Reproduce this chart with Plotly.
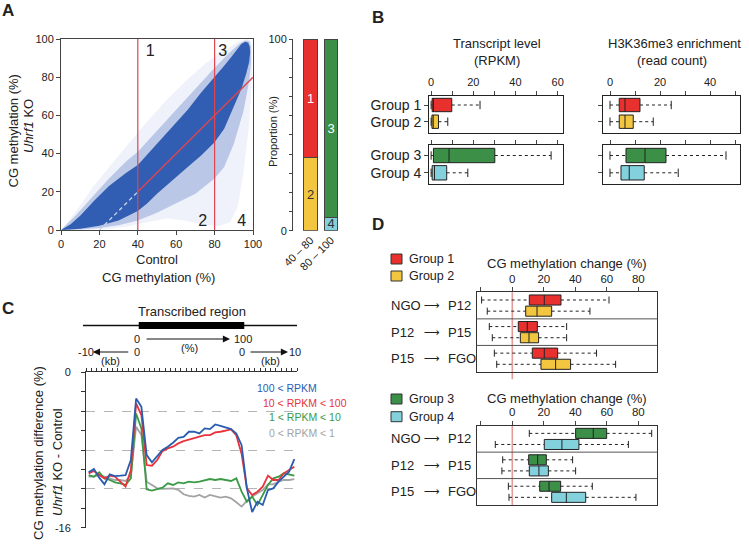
import plotly.graph_objects as go

W, H = 749, 546
FONT = "Liberation Sans, Arial, Helvetica, sans-serif"
INK = "#222222"
RED, YEL, GRN, CYN = "#e8312f", "#f3c63f", "#3b8f47", "#82d1dd"


def fx(p):
    return p / W


def fy(p):
    return 1 - p / H


# ---------------- data ----------------
# Panel A: envelopes of the CpG density cloud (Control %, Uhrf1 KO %)
halo_x = [0, 8, 17, 25, 35, 45, 55, 65, 75, 85, 93, 97, 99, 99.5, 99.5, 98, 95, 92, 88, 82, 74, 64, 55, 45, 35, 25, 15, 0]
halo_y = [0, 10, 23, 33, 45, 57, 68, 78, 87, 94, 99, 100, 99, 95, 80, 55, 30, 12, 4, 2, 3, 5, 6, 4, 2, 0.5, 0, 0]
mid_x = [0, 8, 17, 25, 34, 40, 50, 60, 70, 80, 88, 93, 96, 98, 99, 99, 98, 95, 90, 85, 80, 70, 60, 50, 40, 30, 20, 10, 0]
mid_y = [0, 8, 18, 27, 36, 41, 52, 63, 74, 85, 93, 97.5, 99.2, 99, 96, 88, 78, 62, 45, 33, 27, 19, 14, 9, 5, 2.5, 1, 0.2, 0]
core_x = [0, 5, 10, 17, 25, 34, 40, 50, 58, 66, 73, 80, 85, 89, 92, 94, 96, 97.5,
          98.3, 98.5, 98, 96.5, 94, 89, 85, 80, 73, 66, 58, 50, 45, 40, 30, 20, 10, 0]
core_y = [0, 3, 7.5, 15, 23, 30, 34, 45, 54, 63, 72, 80, 86, 91, 95, 97.5, 98.5, 98,
          96, 93, 88, 82, 74, 62, 53, 46, 39, 33, 26, 19, 14, 10, 5, 2.2, 0.6, 0]
thresholds = [40, 80]
diag_offset = 20
region_names = ["1", "3", "2", "4"]
region_x = [46.4, 84.2, 73.8, 94.1]
region_y = [93.2, 93.2, 4.3, 4.3]

# Panel A: proportions
bar_cats = ["40 – 80", "80 – 100"]
prop_lower = [38, 7]     # groups 2 / 4
prop_upper = [62, 93]    # groups 1 / 3
lower_names = ["2", "4"]
upper_names = ["1", "3"]

# Panel B
b_top = ["Group 1", "Group 2"]
b_bot = ["Group 3", "Group 4"]
rpkm_lo = [0, 0, 0, 0]
rpkm_q1 = [0.5, 0.4, 1.1, 0.5]
rpkm_med = [1.1, 1.0, 8.5, 1.6]
rpkm_q3 = [9.8, 3.5, 30.2, 7.4]
rpkm_hi = [23.2, 7.9, 56.9, 17.4]
h3_lo = [0, 0, 0, 0]
h3_q1 = [3.7, 3.7, 6.4, 4.4]
h3_med = [6.0, 6.0, 14.0, 7.7]
h3_q3 = [12.0, 9.3, 22.4, 13.7]
h3_hi = [24.5, 17.3, 46.4, 27.3]

# Panel C: metagene profiles (40 bins: 10 upstream, 20 body, 10 downstream)
n_up, n_body, n_down = 10, 20, 10
bin_centers = [i + 0.5 for i in range(n_up + n_body + n_down)]
c_names = ["0 < RPKM < 1", "1 < RPKM < 10", "10 < RPKM < 100", "100 < RPKM"]
c_gray = [-10.75, -10.75, -10.58, -10.75, -10.92, -11.09, -11.09, -11.19, -10.58, -5.6,
          -6.47, -11.26, -11.6, -11.95, -12.0, -11.95, -11.95, -12.1, -12.56, -12.73,
          -12.8, -12.63, -12.9, -12.63, -12.8, -12.9, -12.8, -12.97, -13.38, -13.83,
          -13.25, -12.8, -12.46, -12.12, -11.54, -11.54, -11.26, -11.09, -11.09, -10.99]
c_green = [-10.58, -10.75, -10.3, -10.92, -11.09, -11.33, -11.43, -11.6, -10.92, -4.24,
           -5.78, -12.05, -12.18, -12.05, -11.88, -11.43, -11.6, -11.33, -11.43, -11.26,
           -11.33, -11.26, -11.09, -10.99, -11.09, -10.99, -11.09, -11.19, -10.92, -12.29,
           -13.32, -12.8, -13.66, -12.7, -11.6, -10.92, -10.75, -10.4, -10.5, -10.64]
c_red = [-10.4, -10.16, -10.58, -10.92, -10.64, -10.75, -11.26, -11.77, -10.06, -3.2,
         -4.41, -9.55, -9.62, -9.03, -8.11, -7.84, -7.66, -7.32, -7.08, -6.91,
         -6.81, -6.64, -6.47, -6.47, -6.19, -6.12, -6.02, -5.88, -6.5, -8.4,
         -11.95, -12.63, -12.29, -11.77, -10.64, -11.09, -11.09, -10.4, -10.06, -9.72]
c_blue = [-10.3, -9.96, -10.85, -11.53, -10.5, -10.68, -10.64, -10.58, -9.03, -2.7,
          -3.55, -8.52, -9.27, -8.69, -8.0, -7.66, -7.25, -6.74, -6.64, -6.12,
          -6.12, -6.29, -5.78, -5.85, -5.37, -5.51, -5.68, -5.85, -6.3, -7.5,
          -11.95, -14.4, -13.32, -13.66, -12.12, -11.95, -11.26, -10.75, -10.23, -8.93]
c_colors = ["#a3a3a3", "#3a9a45", "#e8333a", "#2a5db0"]

# Panel D
d_from = ["NGO", "P12", "P15"]
d_to = ["P12", "P15", "FGO"]
g1_lo = [-19.5, -14.6, -11.4]; g1_q1 = [10.8, 3.8, 12.7]; g1_med = [20.3, 9.5, 20.3]; g1_q3 = [30.9, 15.9, 28.8]; g1_hi = [61.4, 34.5, 53.5]
g2_lo = [-15.9, -12.7, -9.9]; g2_q1 = [8.5, 5.1, 18.2]; g2_med = [15.7, 10.6, 27.5]; g2_q3 = [25.0, 16.7, 37.0]; g2_hi = [49.3, 34.5, 65.6]
g3_lo = [10.8, -6.1, -2.5]; g3_q1 = [40.2, 10.4, 17.4]; g3_med = [51.4, 16.1, 23.3]; g3_q3 = [59.9, 21.6, 30.7]; g3_hi = [88.5, 38.3, 50.8]
g4_lo = [-10.8, -6.6, -2.1]; g4_q1 = [20.3, 10.8, 25.0]; g4_med = [31.5, 16.9, 34.3]; g4_q3 = [42.3, 22.9, 46.6]; g4_hi = [73.7, 40.2, 78.5]

# ---------------- figure ----------------
fig = go.Figure()
annotations = []
shapes = []


def ann(text, x, y, size=13, xref="paper", yref="paper", xanchor="center", yanchor="middle",
        color=INK, angle=0, family=FONT, **kw):
    annotations.append(dict(text=text, x=x, y=y, xref=xref, yref=yref, xanchor=xanchor,
                            yanchor=yanchor, showarrow=False, textangle=angle,
                            font=dict(size=size, color=color, family=family), **kw))


# ---- Panel A scatter ----
for xs, ys, col in [(halo_x, halo_y, "rgba(80,110,200,0.09)"),
                    (mid_x, mid_y, "rgba(50,90,180,0.28)"),
                    (core_x, core_y, "rgba(44,90,176,0.96)")]:
    fig.add_trace(go.Scatter(x=xs, y=ys, fill="toself", fillcolor=col, mode="lines",
                             line=dict(width=0), hoverinfo="skip", xaxis="x", yaxis="y"))
lo_t, hi_t = thresholds
fig.add_trace(go.Scatter(x=[diag_offset, lo_t], y=[0, lo_t - diag_offset], mode="lines",
                         line=dict(color="#c9d3e6", width=1.3, dash="4px,3px"), xaxis="x", yaxis="y"))
fig.add_trace(go.Scatter(x=[lo_t, 100], y=[lo_t - diag_offset, 100 - diag_offset], mode="lines",
                         line=dict(color="#dd4650", width=1.4), xaxis="x", yaxis="y"))
for t in thresholds:
    fig.add_trace(go.Scatter(x=[t, t], y=[0, 100], mode="lines",
                             line=dict(color="#dd4650", width=1.2), xaxis="x", yaxis="y"))
fig.add_trace(go.Scatter(x=region_x, y=region_y, text=region_names, mode="text",
                         textfont=dict(size=16, color=INK, family=FONT), xaxis="x", yaxis="y"))

# ---- Panel A bars ----
fig.add_trace(go.Bar(x=bar_cats, y=prop_lower, marker=dict(color=[YEL, CYN], line=dict(color="#444", width=1)),
                     width=0.66, text=lower_names, textposition="inside", insidetextanchor="middle",
                     textangle=0, textfont=dict(size=13, color=["#333", "#333"], family=FONT),
                     xaxis="x2", yaxis="y2"))
fig.add_trace(go.Bar(x=bar_cats, y=prop_upper, marker=dict(color=[RED, GRN], line=dict(color="#444", width=1)),
                     width=0.66, text=upper_names, textposition="inside", insidetextanchor="middle",
                     textangle=0, textfont=dict(size=13, color=["white", "white"], family=FONT),
                     xaxis="x2", yaxis="y2"))


# ---- box helper ----
def add_boxes(xa, ya, pos, lo, q1, med, q3, hi, color, width, cap=6):
    fig.add_trace(go.Box(y=pos, q1=q1, median=med, q3=q3, lowerfence=q1, upperfence=q3,
                         orientation="h", fillcolor=color, line=dict(color=INK, width=1),
                         width=width, whiskerwidth=0, boxpoints=False, hoverinfo="skip",
                         xaxis=xa, yaxis=ya))
    wx, wy = [], []
    for p, a, b, c, d in zip(pos, lo, q1, q3, hi):
        wx += [a, b, None, c, d, None]
        wy += [p, p, None, p, p, None]
    fig.add_trace(go.Scatter(x=wx, y=wy, mode="lines", line=dict(color=INK, width=1, dash="3px,3px"),
                             hoverinfo="skip", xaxis=xa, yaxis=ya))
    fig.add_trace(go.Scatter(x=list(lo) + list(hi), y=list(pos) * 2, mode="markers",
                             marker=dict(symbol="line-ns", size=cap, line=dict(width=1, color=INK)),
                             hoverinfo="skip", xaxis=xa, yaxis=ya))


# ---- Panel B ----
top_cols = [RED, YEL]
bot_cols = [GRN, CYN]
for i in range(2):
    add_boxes("x3", "y3", [i], [rpkm_lo[i]], [rpkm_q1[i]], [rpkm_med[i]], [rpkm_q3[i]], [rpkm_hi[i]], top_cols[i], 0.8)
    add_boxes("x4", "y4", [i], [rpkm_lo[i + 2]], [rpkm_q1[i + 2]], [rpkm_med[i + 2]], [rpkm_q3[i + 2]], [rpkm_hi[i + 2]], bot_cols[i], 0.83)
    add_boxes("x5", "y5", [i], [h3_lo[i]], [h3_q1[i]], [h3_med[i]], [h3_q3[i]], [h3_hi[i]], top_cols[i], 0.8)
    add_boxes("x6", "y6", [i], [h3_lo[i + 2]], [h3_q1[i + 2]], [h3_med[i + 2]], [h3_q3[i + 2]], [h3_hi[i + 2]], bot_cols[i], 0.83)

# ---- Panel C ----
for ys, col in zip([c_gray, c_green, c_red, c_blue], c_colors):
    fig.add_trace(go.Scatter(x=bin_centers, y=ys, mode="lines", line=dict(color=col, width=1.8),
                             hoverinfo="skip", xaxis="x7", yaxis="y7"))

# ---- Panel D ----
rows = list(range(len(d_from)))
off = 0.21
add_boxes("x8", "y8", [r - off for r in rows], g1_lo, g1_q1, g1_med, g1_q3, g1_hi, RED, 0.38, cap=5)
add_boxes("x8", "y8", [r + off for r in rows], g2_lo, g2_q1, g2_med, g2_q3, g2_hi, YEL, 0.38, cap=5)
add_boxes("x9", "y9", [r - off for r in rows], g3_lo, g3_q1, g3_med, g3_q3, g3_hi, GRN, 0.38, cap=5)
add_boxes("x9", "y9", [r + off for r in rows], g4_lo, g4_q1, g4_med, g4_q3, g4_hi, CYN, 0.38, cap=5)

# ---------------- axes ----------------
base = dict(showgrid=False, zeroline=False, fixedrange=True, linecolor="#444", tickcolor="#444",
            tickfont=dict(size=11, color=INK, family=FONT), automargin=False)


def axis(**kw):
    d = dict(base)
    d.update(kw)
    return d


layout = dict(
    width=W, height=H, margin=dict(l=0, r=0, t=0, b=0, pad=0, autoexpand=False),
    paper_bgcolor="white", plot_bgcolor="rgba(0,0,0,0)", showlegend=False,
    font=dict(family=FONT, color=INK), barmode="stack", boxmode="overlay",
    uniformtext=dict(minsize=12, mode="show"),
    # A scatter
    xaxis=axis(domain=[fx(61), fx(253)], range=[0, 100], anchor="y", tickvals=list(range(0, 101, 20)),
               ticks="outside", ticklen=4, showline=True, mirror=True),
    yaxis=axis(domain=[fy(230), fy(39)], range=[0, 100], anchor="x", tickvals=list(range(0, 101, 20)),
               ticks="outside", ticklen=4, showline=True, mirror=True),
    # A bars
    xaxis2=axis(domain=[fx(293), fx(342)], type="category", categoryorder="array", categoryarray=bar_cats,
                range=[-0.854, 1.537], anchor="y2", ticks="", tickangle=-45, showline=False),
    yaxis2=axis(domain=[fy(230.7), fy(39)], range=[0, 100], anchor="x2", showline=True,
                tickvals=list(range(0, 101, 10)),
                ticktext=["0"] + [""] * 9 + ["100"], ticks="outside", ticklen=3),
    # B left
    xaxis3=axis(domain=[fx(429), fx(562.7)], range=[-1, 62.4], anchor="y3", side="top",
                tickvals=list(range(0, 61, 10)), ticktext=["0", "", "20", "", "40", "", "60"],
                ticks="outside", ticklen=4, showline=True, mirror=True, linecolor="#222"),
    yaxis3=axis(domain=[fy(133), fy(95.7)], range=[1.677, -0.557], anchor="x3", tickvals=[0, 1],
                ticktext=b_top, ticks="outside", ticklen=4, showline=True, mirror=True, linecolor="#222",
                tickfont=dict(size=14, color=INK, family=FONT)),
    xaxis4=axis(domain=[fx(429), fx(562.7)], range=[-1, 62.4], anchor="y4", side="top",
                tickvals=list(range(0, 61, 10)), showticklabels=False,
                ticks="outside", ticklen=4, showline=True, mirror=True, linecolor="#222"),
    yaxis4=axis(domain=[fy(184), fy(145)], range=[1.647, -0.607], anchor="x4", tickvals=[0, 1],
                ticktext=b_bot, ticks="outside", ticklen=4, showline=True, mirror=True, linecolor="#222",
                tickfont=dict(size=14, color=INK, family=FONT)),
    # B right
    xaxis5=axis(domain=[fx(603.3), fx(740)], range=[-2.68, 52], anchor="y5", side="top",
                tickvals=list(range(0, 51, 10)), ticktext=["0", "", "20", "", "40", ""],
                ticks="outside", ticklen=4, showline=True, mirror=True, linecolor="#222"),
    yaxis5=axis(domain=[fy(133), fy(95.7)], range=[1.677, -0.557], anchor="x5", tickvals=[0, 1],
                showticklabels=False, ticks="outside", ticklen=4, showline=True, mirror=True, linecolor="#222"),
    xaxis6=axis(domain=[fx(603.3), fx(740)], range=[-2.68, 52], anchor="y6", side="top",
                tickvals=list(range(0, 51, 10)), showticklabels=False,
                ticks="outside", ticklen=4, showline=True, mirror=True, linecolor="#222"),
    yaxis6=axis(domain=[fy(184), fy(145)], range=[1.647, -0.607], anchor="x6", tickvals=[0, 1],
                showticklabels=False, ticks="outside", ticklen=4, showline=True, mirror=True, linecolor="#222"),
    # C
    xaxis7=axis(domain=[fx(86), fx(297)], range=[0, n_up + n_body + n_down], anchor="y7", side="top",
                tickvals=list(range(0, n_up + n_body + n_down + 1)), showticklabels=False,
                ticks="outside", ticklen=3, showline=True, linecolor="#333", tickcolor="#333"),
    yaxis7=axis(domain=[fy(527.7), fy(372.3)], range=[-16, 0], anchor="x7",
                tickvals=[-16, -12, -8, -4, 0], ticktext=["-16", "", "", "", "0"],
                ticks="outside", ticklen=4, showline=True, linecolor="#333", tickcolor="#333",
                showgrid=True, gridcolor="#b5b5b5", griddash="dash", gridwidth=1,
                ticklabelstandoff=8,
                minor=dict(tickvals=[-14, -10, -6, -2], ticks="outside", ticklen=4, tickcolor="#333", showgrid=False)),
    # D top
    xaxis8=axis(domain=[fx(476.7), fx(657.3)], range=[-22.6, 92.06], anchor="y8", side="top",
                tickvals=list(range(-20, 81, 20)), ticktext=["", "0", "20", "40", "60", "80"],
                ticks="outside", ticklen=4, showline=True, mirror=True, linecolor="#333",
                tickfont=dict(size=11.5, color=INK, family=FONT)),
    yaxis8=axis(domain=[fy(372), fy(292.3)], range=[2.5, -0.5], anchor="x8", showticklabels=False,
                ticks="", showline=True, mirror=True, linecolor="#333"),
    # D bottom
    xaxis9=axis(domain=[fx(476.7), fx(657.3)], range=[-22.6, 92.06], anchor="y9", side="top",
                tickvals=list(range(-20, 81, 20)), ticktext=["", "0", "20", "40", "60", "80"],
                ticks="outside", ticklen=4, showline=True, mirror=True, linecolor="#333",
                tickfont=dict(size=11.5, color=INK, family=FONT)),
    yaxis9=axis(domain=[fy(505), fy(425.7)], range=[2.5, -0.5], anchor="x9", showticklabels=False,
                ticks="", showline=True, mirror=True, linecolor="#333"),
)

# ---------------- text & decorations ----------------
for letter, x, y in [("A", 8, 10), ("B", 378, 17), ("C", 8, 308), ("D", 378, 224)]:
    ann(f"<b>{letter}</b>", fx(x), fy(y), size=17)

# A titles
ann("CG methylation (%)", fx(12.5), fy(131), size=13, angle=-90)
ann("<i>Uhrf1</i> KO", fx(28), fy(126), size=13, angle=-90)
ann("Control", fx(157), fy(259), size=13)
ann("CG methylation (%)", fx(158), fy(277), size=13)
ann("Proportion (%)", fx(273), fy(132), size=11, angle=-90)

# B titles
ann("Transcript level", fx(496.7), fy(43.3), size=13)
ann("(RPKM)", fx(496.7), fy(60), size=13)
ann("H3K36me3 enrichment", fx(674), fy(43.3), size=13)
ann("(read count)", fx(672), fy(60), size=13)

# C gene diagram
shapes.append(dict(type="line", xref="paper", yref="paper", x0=fx(83), x1=fx(297), y0=fy(325.5), y1=fy(325.5),
                   line=dict(color="#111", width=1.6)))
shapes.append(dict(type="rect", xref="x7", yref="paper", x0=n_up, x1=n_up + n_body, y0=fy(329), y1=fy(322),
                   fillcolor="#000", line=dict(width=0)))
ann("Transcribed region", n_up + n_body / 2, fy(311), size=13, xref="x7")
ann("0", 9.7, fy(339), size=11, xref="x7")
ann("100", 29.8, fy(339), size=11, xref="x7")
ann("(%)", 19.7, fy(348), size=11, xref="x7")
ann("-10", 0, fy(352), size=11, xref="x7")
ann("0", 9.7, fy(352), size=11, xref="x7")
ann("0", 29.6, fy(352), size=11, xref="x7")
ann("10", 39.7, fy(352), size=11, xref="x7")
ann("(kb)", 4.6, fy(360.5), size=11, xref="x7")
ann("(kb)", 34.9, fy(360.5), size=11, xref="x7")
for head, tail, yy in [(27.3, 11.2, 339), (1.3, 8.3, 352), (38.3, 30.9, 352)]:
    annotations.append(dict(x=head, y=fy(yy), xref="x7", yref="paper", text="", showarrow=True,
                            axref="x7", ax=tail, ayref="pixel", ay=0, arrowhead=2, arrowsize=1.3,
                            arrowwidth=1.1, arrowcolor="#111", standoff=0, startstandoff=0))
ann("CG methylation difference (%)", fx(38), fy(453), size=13, angle=-90)
ann("<i>Uhrf1</i> KO - Control", fx(57), fy(462), size=13, angle=-90)
for name, col, x, y in [(c_names[3], c_colors[3], 255, 388.3), (c_names[2], c_colors[2], 260.5, 402.7),
                        (c_names[1], c_colors[1], 266.5, 417.3), (c_names[0], c_colors[0], 266.5, 432.7)]:
    ann(name, fx(x), fy(y), size=10.5, color=col, xanchor="left")

# D legends, titles, row labels
for col, name, y in [(RED, "Group 1", 259), (YEL, "Group 2", 276), (GRN, "Group 3", 399), (CYN, "Group 4", 416.7)]:
    shapes.append(dict(type="rect", xref="paper", yref="paper", x0=fx(391), x1=fx(402), y0=fy(y + 5), y1=fy(y - 5),
                       fillcolor=col, line=dict(color="#333", width=1)))
    ann(name, fx(407), fy(y), size=12.5, xanchor="left")
ann("CG methylation change (%)", fx(567), fy(263), size=13)
ann("CG methylation change (%)", fx(567), fy(398.3), size=13)
for ya in ["y8", "y9"]:
    for r, (a, b) in enumerate(zip(d_from, d_to)):
        ann(a, fx(389), r, size=13, yref=ya, xanchor="left")
        ann("⟶", fx(442), r, size=11, yref=ya, xanchor="right", family="DejaVu Sans")
        ann(b, fx(445.5), r, size=13, yref=ya, xanchor="left")
for xa, ya, ylo in [("x8", "y8", -0.09), ("x9", "y9", 0)]:
    for sep in [0.5, 1.5]:
        shapes.append(dict(type="line", xref=f"{xa} domain", yref=ya, x0=0, x1=1, y0=sep, y1=sep,
                           line=dict(color="#555", width=1)))
    shapes.append(dict(type="line", xref=xa, yref=f"{ya} domain", x0=0, x1=0, y0=ylo, y1=1,
                       line=dict(color="#e59a9a", width=1.6), layer="below"))

layout["annotations"] = annotations
layout["shapes"] = shapes
fig.update_layout(**layout)
fig.write_html("out.html", config={"displayModeBar": False, "staticPlot": True},
               post_script="document.body.style.margin='0';document.body.style.padding='0';")
